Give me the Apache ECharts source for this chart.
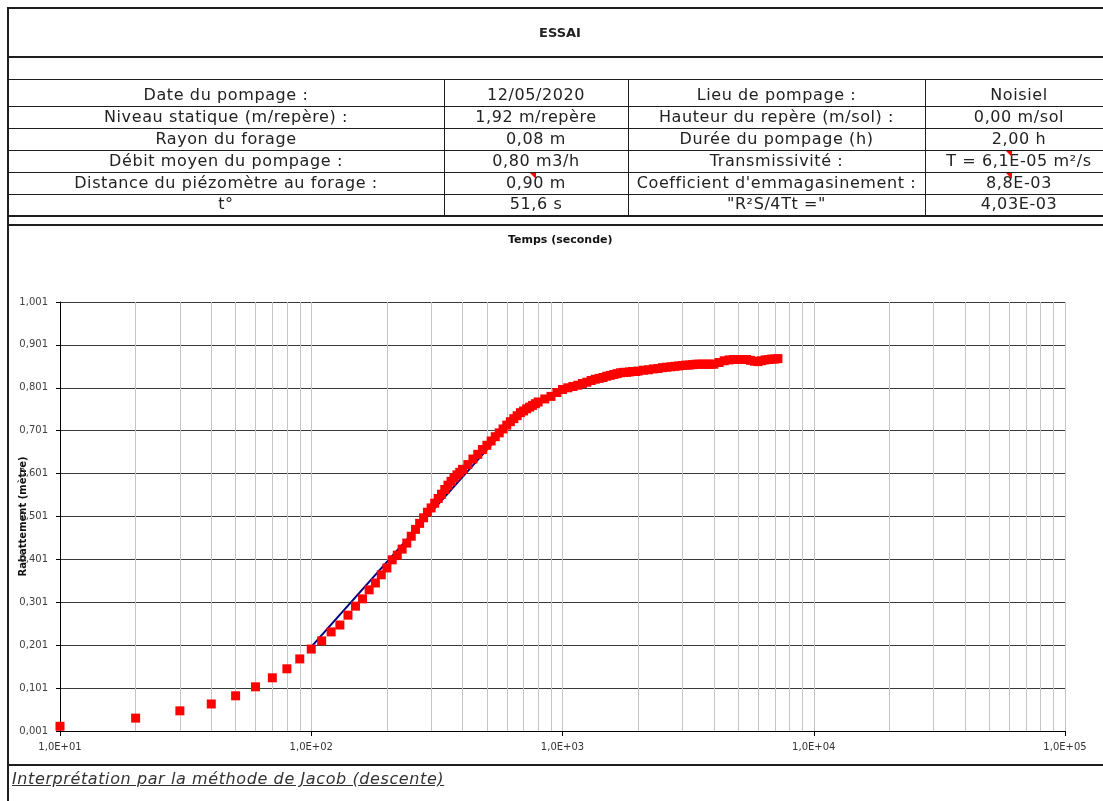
<!DOCTYPE html>
<html>
<head>
<meta charset="utf-8">
<script src="https://cdn.jsdelivr.net/npm/echarts@6/dist/echarts.min.js"></script>
<style>
  body { margin: 0; background: #fff; font-family: 'DejaVu Sans', sans-serif; }
  #chart { position: absolute; left: 0; top: 0; width: 1103px; height: 801px; }
  .h { position: absolute; left: 8px; width: 1110px; height: 0; border-top: 1px solid #1e1e1e; }
  .v { position: absolute; width: 0; border-left: 1px solid #1e1e1e; }
  .cell { position: absolute; height: 22px; line-height: 22px; text-align: center; font-size: 16px;
          letter-spacing: 0.6px; color: #222; white-space: nowrap; }
  .mark { position: absolute; width: 0; height: 0; border-left: 6px solid transparent; border-top: 6px solid #ff0000; }
  .note { position: absolute; left: 12px; top: 769px; font-size: 16px; letter-spacing: 0.6px; font-style: italic;
          text-decoration: underline; color: #333; white-space: nowrap; }
</style>
</head>
<body>
<div id="chart"></div>

<!-- tableau d'en-tête -->
<div class="h" style="top:7px;border-top-width:2px"></div>
<div class="h" style="top:56px;border-top-width:2px"></div>
<div class="h" style="top:79px"></div>
<div class="h" style="top:106px"></div>
<div class="h" style="top:128px"></div>
<div class="h" style="top:150px"></div>
<div class="h" style="top:172px"></div>
<div class="h" style="top:194px"></div>
<div class="h" style="top:215px;border-top-width:2px"></div>
<div class="h" style="top:224px;border-top-width:2px"></div>
<div class="h" style="top:764px;border-top-width:2px"></div>
<div class="v" style="left:7px;top:7px;height:794px;border-left-width:2px"></div>
<div class="v" style="left:444px;top:79px;height:137px"></div>
<div class="v" style="left:628px;top:79px;height:137px"></div>
<div class="v" style="left:925px;top:79px;height:137px"></div>

<div class="cell" style="left:8px;width:1104px;top:22px;font-weight:bold;font-size:13px;letter-spacing:0">ESSAI</div>

<div class="cell" style="left:8px;width:436px;top:84px">Date du pompage :</div>
<div class="cell" style="left:444px;width:184px;top:84px">12/05/2020</div>
<div class="cell" style="left:628px;width:297px;top:84px">Lieu de pompage :</div>
<div class="cell" style="left:925px;width:188px;top:84px">Noisiel</div>

<div class="cell" style="left:8px;width:436px;top:106px">Niveau statique (m/repère) :</div>
<div class="cell" style="left:444px;width:184px;top:106px">1,92 m/repère</div>
<div class="cell" style="left:628px;width:297px;top:106px">Hauteur du repère (m/sol) :</div>
<div class="cell" style="left:925px;width:188px;top:106px">0,00 m/sol</div>

<div class="cell" style="left:8px;width:436px;top:128px">Rayon du forage</div>
<div class="cell" style="left:444px;width:184px;top:128px">0,08 m</div>
<div class="cell" style="left:628px;width:297px;top:128px">Durée du pompage (h)</div>
<div class="cell" style="left:925px;width:188px;top:128px">2,00 h</div>

<div class="cell" style="left:8px;width:436px;top:150px">Débit moyen du pompage :</div>
<div class="cell" style="left:444px;width:184px;top:150px">0,80 m3/h</div>
<div class="cell" style="left:628px;width:297px;top:150px">Transmissivité :</div>
<div class="cell" style="left:925px;width:188px;top:150px">T = 6,1E-05 m²/s</div>

<div class="cell" style="left:8px;width:436px;top:172px">Distance du piézomètre au forage :</div>
<div class="cell" style="left:444px;width:184px;top:172px">0,90 m</div>
<div class="cell" style="left:628px;width:297px;top:172px">Coefficient d'emmagasinement :</div>
<div class="cell" style="left:925px;width:188px;top:172px">8,8E-03</div>

<div class="cell" style="left:8px;width:436px;top:193px">t°</div>
<div class="cell" style="left:444px;width:184px;top:193px">51,6 s</div>
<div class="cell" style="left:628px;width:297px;top:193px">"R²S/4Tt ="</div>
<div class="cell" style="left:925px;width:188px;top:193px">4,03E-03</div>

<div class="mark" style="left:530px;top:173px"></div>
<div class="mark" style="left:1006px;top:151px"></div>
<div class="mark" style="left:1006px;top:173px"></div>

<div class="note">Interprétation par la méthode de Jacob (descente)</div>

<script>
// temps (s) et rabattement (m)
const times = [
  10, 20, 30, 40, 50, 60, 70, 80, 90, 100,
  110, 120, 130, 140, 150, 160, 170, 180, 190, 200,
  210, 220, 230, 240, 250, 260, 270, 280, 290, 300,
  310, 320, 330, 340, 350, 360, 370, 380, 390, 400,
  420, 440, 460, 480, 500, 520, 540, 560, 580, 600,
  620, 640, 660, 680, 700, 720, 740, 760, 780, 800,
  850, 900, 950, 1000, 1050, 1100, 1150, 1200, 1250, 1300,
  1350, 1400, 1450, 1500, 1550, 1600, 1650, 1700, 1750, 1800,
  1850, 1900, 1950, 2000,
  2100, 2200, 2300, 2400, 2500, 2600, 2700, 2800, 2900, 3000,
  3100, 3200, 3300, 3400, 3500, 3600, 3700, 3800, 3900, 4000,
  4200, 4400, 4600, 4800, 5000, 5200, 5400, 5600, 5800, 6000,
  6200, 6400, 6600, 6800, 7000, 7200
]
const drawdown = [
  0.012, 0.031, 0.048, 0.064, 0.083, 0.104, 0.125, 0.146, 0.169, 0.192,
  0.211, 0.232, 0.248, 0.271, 0.292, 0.309, 0.330, 0.346, 0.365, 0.381,
  0.400, 0.411, 0.425, 0.439, 0.455, 0.471, 0.485, 0.498, 0.511, 0.521,
  0.532, 0.543, 0.553, 0.564, 0.574, 0.583, 0.591, 0.598, 0.604, 0.611,
  0.622, 0.635, 0.646, 0.657, 0.667, 0.677, 0.687, 0.696, 0.705, 0.714,
  0.722, 0.729, 0.736, 0.743, 0.747, 0.752, 0.756, 0.760, 0.764, 0.768,
  0.775, 0.781, 0.790, 0.797, 0.801, 0.804, 0.807, 0.811, 0.814, 0.818,
  0.821, 0.823, 0.825, 0.828, 0.830, 0.832, 0.834, 0.836, 0.837, 0.837,
  0.838, 0.839, 0.839, 0.840,
  0.842, 0.843, 0.845, 0.846, 0.848, 0.849, 0.850, 0.851, 0.852, 0.853,
  0.854, 0.854, 0.855, 0.856, 0.856, 0.856, 0.856, 0.856, 0.856, 0.856,
  0.860, 0.864, 0.866, 0.867, 0.867, 0.867, 0.867, 0.865, 0.863, 0.862,
  0.864, 0.866, 0.867, 0.868, 0.868, 0.869
]
// droite de Jacob
const jacobTimes = [100, 590]
const jacobDrawdown = [0.197, 0.704]

const xTickLabels = ['1,0E+01', '1,0E+02', '1,0E+03', '1,0E+04', '1,0E+05']
const yTickLabels = ['0,001', '0,101', '0,201', '0,301', '0,401', '0,501', '0,601', '0,701', '0,801', '0,901', '1,001']

// quadrillage secondaire (2..9 par décade)
const minorGrid = []
for (const d of [10, 100, 1000, 10000]) {
  for (let k = 2; k <= 9; k++) minorGrid.push(d * k)
}

const mycharts = echarts.init(document.getElementById('chart'))
mycharts.setOption({
  animation: false,
  backgroundColor: '#fff',
  graphic: [
    {
      type: 'text',
      left: 508,
      top: 235,
      style: { text: 'Temps (seconde)', font: 'bold 11px "DejaVu Sans"', fill: '#111' },
    },
  ],
  grid: { left: 60, right: 38, top: 302, bottom: 70, containLabel: false, outerBoundsMode: 'none' },
  xAxis: {
    type: 'log',
    logBase: 10,
    min: 10,
    max: 100000,
    axisLine: { show: true, lineStyle: { color: '#000', width: 1 } },
    axisTick: { show: true, length: 5, lineStyle: { color: '#000' } },
    axisLabel: {
      fontSize: 10,
      color: '#333',
      margin: 11,
      fontFamily: 'DejaVu Sans',
      formatter: (v, i) => xTickLabels[i],
    },
    splitLine: { show: true, lineStyle: { color: '#c4c4c4', width: 1 } },
  },
  yAxis: {
    type: 'value',
    min: 0.001,
    max: 1.001,
    interval: 0.1,
    name: 'Rabattement (mètre)',
    nameLocation: 'middle',
    nameGap: 32,
    nameMoveOverlap: false,
    nameTextStyle: { fontWeight: 'bold', fontSize: 10, color: '#111', fontFamily: 'DejaVu Sans' },
    axisLine: { show: true, lineStyle: { color: '#000', width: 1 } },
    axisTick: { show: true, length: 4, lineStyle: { color: '#000' } },
    axisLabel: {
      fontSize: 10,
      color: '#404040',
      margin: 12,
      fontFamily: 'DejaVu Sans',
      formatter: (v, i) => yTickLabels[i],
    },
    splitLine: { show: true, lineStyle: { color: '#3a3a3a', width: 1 } },
  },
  series: [
    {
      type: 'line',
      data: jacobTimes.map((t, i) => [t, jacobDrawdown[i]]),
      showSymbol: false,
      lineStyle: { color: '#000080', width: 2 },
      z: 2,
      markLine: {
        silent: true,
        symbol: 'none',
        label: { show: false },
        lineStyle: { color: '#c4c4c4', width: 1, type: 'solid' },
        data: minorGrid.map((x) => ({ xAxis: x })),
        z: 1,
      },
    },
    {
      type: 'scatter',
      data: times.map((t, i) => [t, drawdown[i]]),
      symbol: 'rect',
      symbolSize: 9,
      itemStyle: { color: '#ff0000', opacity: 1 },
      z: 3,
    },
  ],
})
</script>
</body>
</html>
